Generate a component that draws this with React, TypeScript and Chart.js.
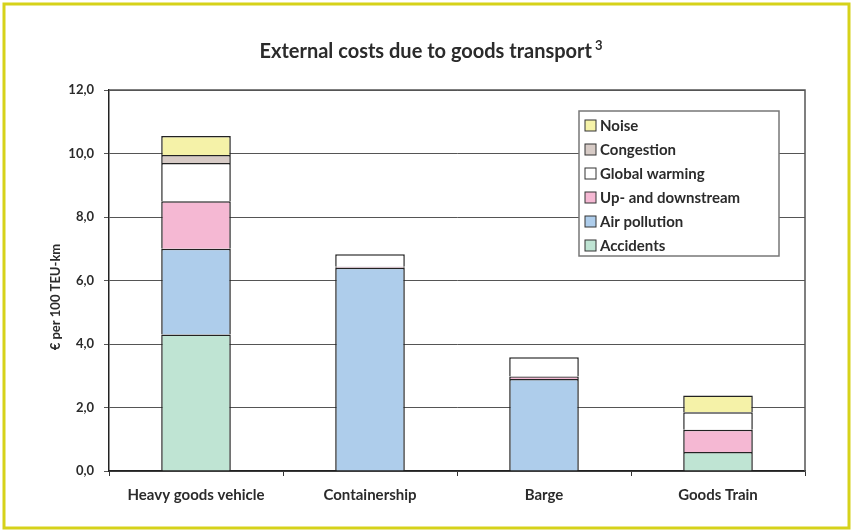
import React, { useEffect, useRef } from 'react';
import { Chart, registerables } from 'chart.js';
Chart.register(...registerables);

const categories = ['Heavy goods vehicle', 'Containership', 'Barge', 'Goods Train'];
const accidents = [4.3, null, null, 0.6];
const airPollution = [2.7, 6.4, 2.9, null];
const upDownstream = [1.5, 0.03, 0.08, 0.7];
const globalWarming = [1.2, 0.4, 0.6, 0.55];
const congestion = [0.25, null, null, null];
const noise = [0.6, null, null, 0.53];
const seriesNames = ['Accidents', 'Air pollution', 'Up- and downstream', 'Global warming', 'Congestion', 'Noise'];
const seriesColors = ['#bfe4d3', '#aecdeb', '#f5b8d3', '#ffffff', '#d7cbc6', '#f5f2a8'];
const chartTitle = 'External costs due to goods transport';
const titleSup = '3';
const yTitle = '€ per 100 TEU-km';

const FONT = 'Lato, "Noto Sans", sans-serif';

const decor = {
  id: 'decor',
  beforeDraw(chart: any) {
    const ctx = chart.ctx;
    ctx.save();
    ctx.fillStyle = '#ffffff';
    ctx.fillRect(0, 0, chart.width, chart.height);
    ctx.strokeStyle = '#d6d21a';
    ctx.lineWidth = 3;
    ctx.strokeRect(4, 4, chart.width - 8, chart.height - 7);
    ctx.restore();
  },
  beforeDatasetsDraw(chart: any) {
    const ctx = chart.ctx;
    const a = chart.chartArea;
    ctx.save();
    ctx.strokeStyle = '#555';
    ctx.lineWidth = 1.5;
    ctx.beginPath();
    ctx.moveTo(a.left, a.top);
    ctx.lineTo(a.right, a.top);
    ctx.lineTo(a.right, a.bottom);
    ctx.stroke();
    ctx.restore();
  },
  afterDraw(chart: any) {
    const ctx = chart.ctx;
    ctx.save();
    // title
    ctx.fillStyle = '#2b2b2b';
    ctx.font = `bold 20px ${FONT}`;
    ctx.textBaseline = 'middle';
    const tw = ctx.measureText(chartTitle).width;
    ctx.font = `bold 13px ${FONT}`;
    const sw = ctx.measureText(titleSup).width + 3;
    const x0 = 431 - (tw + sw) / 2;
    ctx.font = `bold 20px ${FONT}`;
    ctx.textAlign = 'left';
    ctx.fillText(chartTitle, x0, 52);
    ctx.font = `bold 13px ${FONT}`;
    ctx.fillText(titleSup, x0 + tw + 3, 46);
    // y title
    ctx.save();
    ctx.translate(56, 297);
    ctx.rotate(-Math.PI / 2);
    ctx.textAlign = 'center';
    ctx.font = `bold 13px ${FONT}`;
    ctx.fillText(yTitle, 0, 0);
    ctx.restore();
    // legend
    const lx = 579, ly = 111, lw = 200, lh = 145;
    ctx.fillStyle = '#ffffff';
    ctx.fillRect(lx, ly, lw, lh);
    ctx.strokeStyle = '#777';
    ctx.lineWidth = 1.5;
    ctx.strokeRect(lx, ly, lw, lh);
    ctx.font = `bold 15px ${FONT}`;
    ctx.textAlign = 'left';
    for (let i = 0; i < seriesNames.length; i++) {
      const idx = seriesNames.length - 1 - i;
      const cy = 126 + i * 24;
      ctx.fillStyle = seriesColors[idx];
      ctx.fillRect(585, cy - 6, 11, 11);
      ctx.strokeStyle = '#333';
      ctx.lineWidth = 1;
      ctx.strokeRect(585, cy - 6, 11, 11);
      ctx.fillStyle = '#2b2b2b';
      ctx.fillText(seriesNames[idx], 600, cy);
    }
    ctx.restore();
  },
};

export default function App() {
  const ref = useRef<HTMLCanvasElement | null>(null);
  useEffect(() => {
    if (!ref.current) return;
    const values = [accidents, airPollution, upDownstream, globalWarming, congestion, noise];
    const chart = new Chart(ref.current, {
      type: 'bar',
      data: {
        labels: categories,
        datasets: values.map((v, i) => ({
          label: seriesNames[i],
          data: v,
          backgroundColor: seriesColors[i],
          borderColor: '#222',
          borderWidth: 1.5,
          borderSkipped: 'start',
          barPercentage: 0.4,
          categoryPercentage: 1,
        })),
      },
      options: {
        animation: false,
        responsive: false,
        devicePixelRatio: 1,
        layout: { padding: { left: 0, right: 48, top: 90, bottom: 0 } },
        plugins: { legend: { display: false }, title: { display: false }, tooltip: { enabled: false } },
        scales: {
          x: {
            stacked: true,
            grid: { drawOnChartArea: false, color: '#333', tickLength: 5, offset: true },
            border: { color: '#222', width: 1.5 },
            ticks: { color: '#2b2b2b', font: { family: FONT, size: 15, weight: 'bold' }, padding: 10, maxRotation: 0 },
            afterFit: (s: any) => { s.height = 60; },
          },
          y: {
            stacked: true,
            min: 0,
            max: 12,
            grid: { color: '#555', lineWidth: 1, tickLength: 5 },
            border: { color: '#222', width: 1.5 },
            ticks: {
              stepSize: 2,
              color: '#2b2b2b',
              padding: 10,
              font: { family: FONT, size: 13, weight: 'bold' },
              callback: (v: any) => Number(v).toFixed(1).replace('.', ','),
            },
            afterFit: (s: any) => { s.width = 109; },
          },
        },
      },
      plugins: [decor],
    });
    return () => chart.destroy();
  }, []);
  return (
    <div style={{ position: 'fixed', left: 0, top: 0, width: 853, height: 531 }}>
      <canvas ref={ref} width={853} height={531} style={{ width: 853, height: 531 }} />
    </div>
  );
}
